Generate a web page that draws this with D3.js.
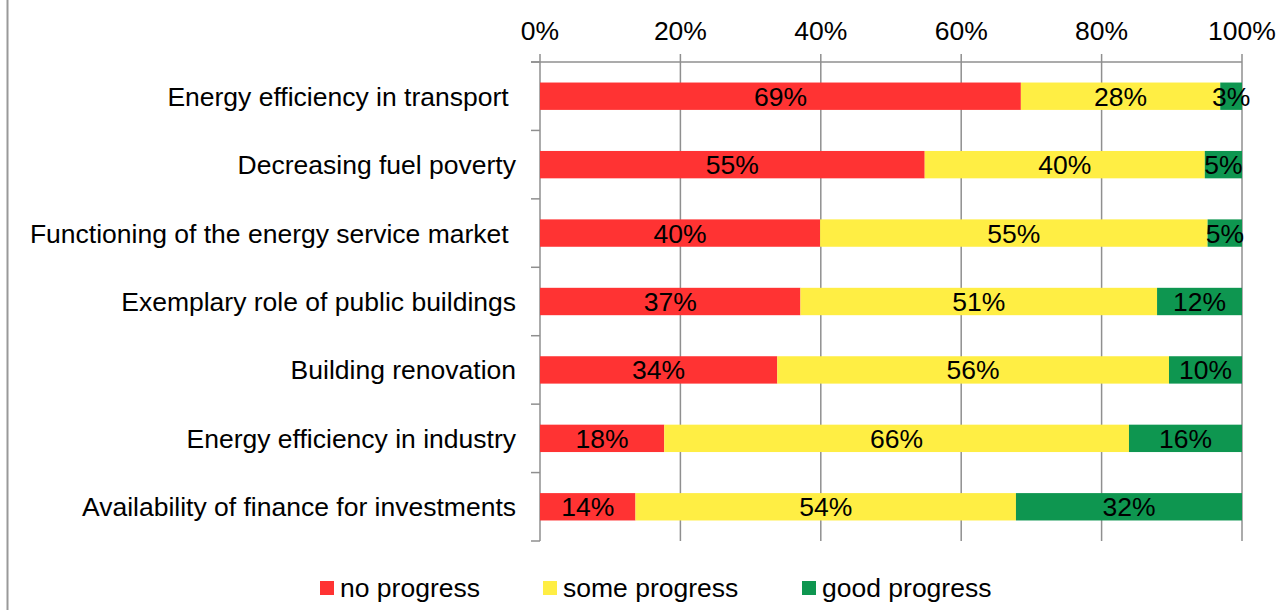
<!DOCTYPE html>
<html>
<head>
<meta charset="utf-8">
<script src="https://cdn.jsdelivr.net/npm/d3@7"></script>
<style>
  html, body { margin: 0; padding: 0; background: #fff; }
  svg { display: block; font-family: "Liberation Sans", Arial, sans-serif; }
  .cat { white-space: pre; }
</style>
</head>
<body>
<script>
const categories = [
  "Energy efficiency in transport ",
  "Decreasing fuel poverty",
  "Functioning of the energy service market ",
  "Exemplary role of public buildings",
  "Building renovation",
  "Energy efficiency in industry",
  "Availability of finance for investments"
];
const seriesNames = ["no progress", "some progress", "good progress"];
const noProgress   = [68.5, 54.8, 39.9, 37.1, 33.8, 17.7, 13.6];
const someProgress = [28.4, 39.9, 55.2, 50.8, 55.8, 66.2, 54.2];
const goodProgress = [3.1, 5.3, 4.9, 12.1, 10.4, 16.1, 32.2];
const tickValues = [0, 20, 40, 60, 80, 100];
const colors = ["#FF3333", "#FFEE44", "#0E9650"];

const W = 1279, H = 610;
const FS = 26.5;
const svg = d3.select("body").append("svg").attr("width", W).attr("height", H);

const plotLeft = 540, plotRight = 1242, plotTop = 62, plotBottom = 541;
const x = d3.scaleLinear().domain([0, 100]).range([plotLeft, plotRight]);
const y = d3.scaleBand().domain(categories).range([plotTop, plotBottom]).paddingInner(0.6).paddingOuter(0.3);

// left frame line
svg.append("line").attr("x1", 7.5).attr("x2", 7.5).attr("y1", 0).attr("y2", H)
  .attr("stroke", "#999").attr("stroke-width", 2);

const gridColor = "#8f8f8f";
// vertical gridlines (extend above axis as ticks)
svg.append("g").selectAll("line").data(tickValues).join("line")
  .attr("x1", d => x(d)).attr("x2", d => x(d))
  .attr("y1", plotTop - 8).attr("y2", plotBottom)
  .attr("stroke", gridColor).attr("stroke-width", 1.5);

// top axis line
svg.append("line").attr("x1", plotLeft - 9).attr("x2", plotRight).attr("y1", plotTop).attr("y2", plotTop)
  .attr("stroke", gridColor).attr("stroke-width", 1.5);

// left axis ticks at category boundaries
const step = y.step();
const boundaries = d3.range(categories.length + 1).map(i => plotTop + i * step);
svg.append("g").selectAll("line").data(boundaries).join("line")
  .attr("x1", plotLeft - 9).attr("x2", plotLeft)
  .attr("y1", d => d).attr("y2", d => d)
  .attr("stroke", gridColor).attr("stroke-width", 1.5);

// tick labels
svg.append("g").selectAll("text").data(tickValues).join("text")
  .attr("x", d => x(d)).attr("y", 39.5)
  .attr("text-anchor", "middle").attr("font-size", FS).attr("fill", "#000")
  .text(d => d + "%");

// stacked data
const rows = categories.map((c, i) => ({
  cat: c, "no progress": noProgress[i], "some progress": someProgress[i], "good progress": goodProgress[i]
}));
const stack = d3.stack().keys(seriesNames)(rows);

const bh = y.bandwidth();
stack.forEach((layer, li) => {
  const g = svg.append("g");
  g.selectAll("rect").data(layer).join("rect")
    .attr("x", d => x(d[0])).attr("width", d => x(d[1]) - x(d[0]))
    .attr("y", d => y(d.data.cat)).attr("height", bh)
    .attr("fill", colors[li]);
});
stack.forEach((layer, li) => {
  svg.append("g").selectAll("text").data(layer).join("text")
    .attr("x", d => (x(d[0]) + x(d[1])) / 2)
    .attr("y", d => y(d.data.cat) + bh / 2 + 9.5)
    .attr("text-anchor", "middle").attr("font-size", FS).attr("fill", "#000")
    .text(d => Math.round(d[1] - d[0]) + "%");
});

// category labels
svg.append("g").selectAll("text").data(categories).join("text")
  .attr("class", "cat")
  .attr("x", 516).attr("y", d => y(d) + bh / 2 + 9.5)
  .attr("text-anchor", "end").attr("font-size", FS).attr("fill", "#000")
  .text(d => d);

// legend
const legendX = [320, 543, 802];
const lg = svg.append("g").selectAll("g").data(seriesNames).join("g")
  .attr("transform", (d, i) => `translate(${legendX[i]},0)`);
lg.append("rect").attr("x", 0).attr("y", 581).attr("width", 14).attr("height", 14)
  .attr("fill", (d, i) => colors[i]);
lg.append("text").attr("x", 20).attr("y", 597).attr("font-size", FS).attr("fill", "#000")
  .text(d => d);
</script>
</body>
</html>
